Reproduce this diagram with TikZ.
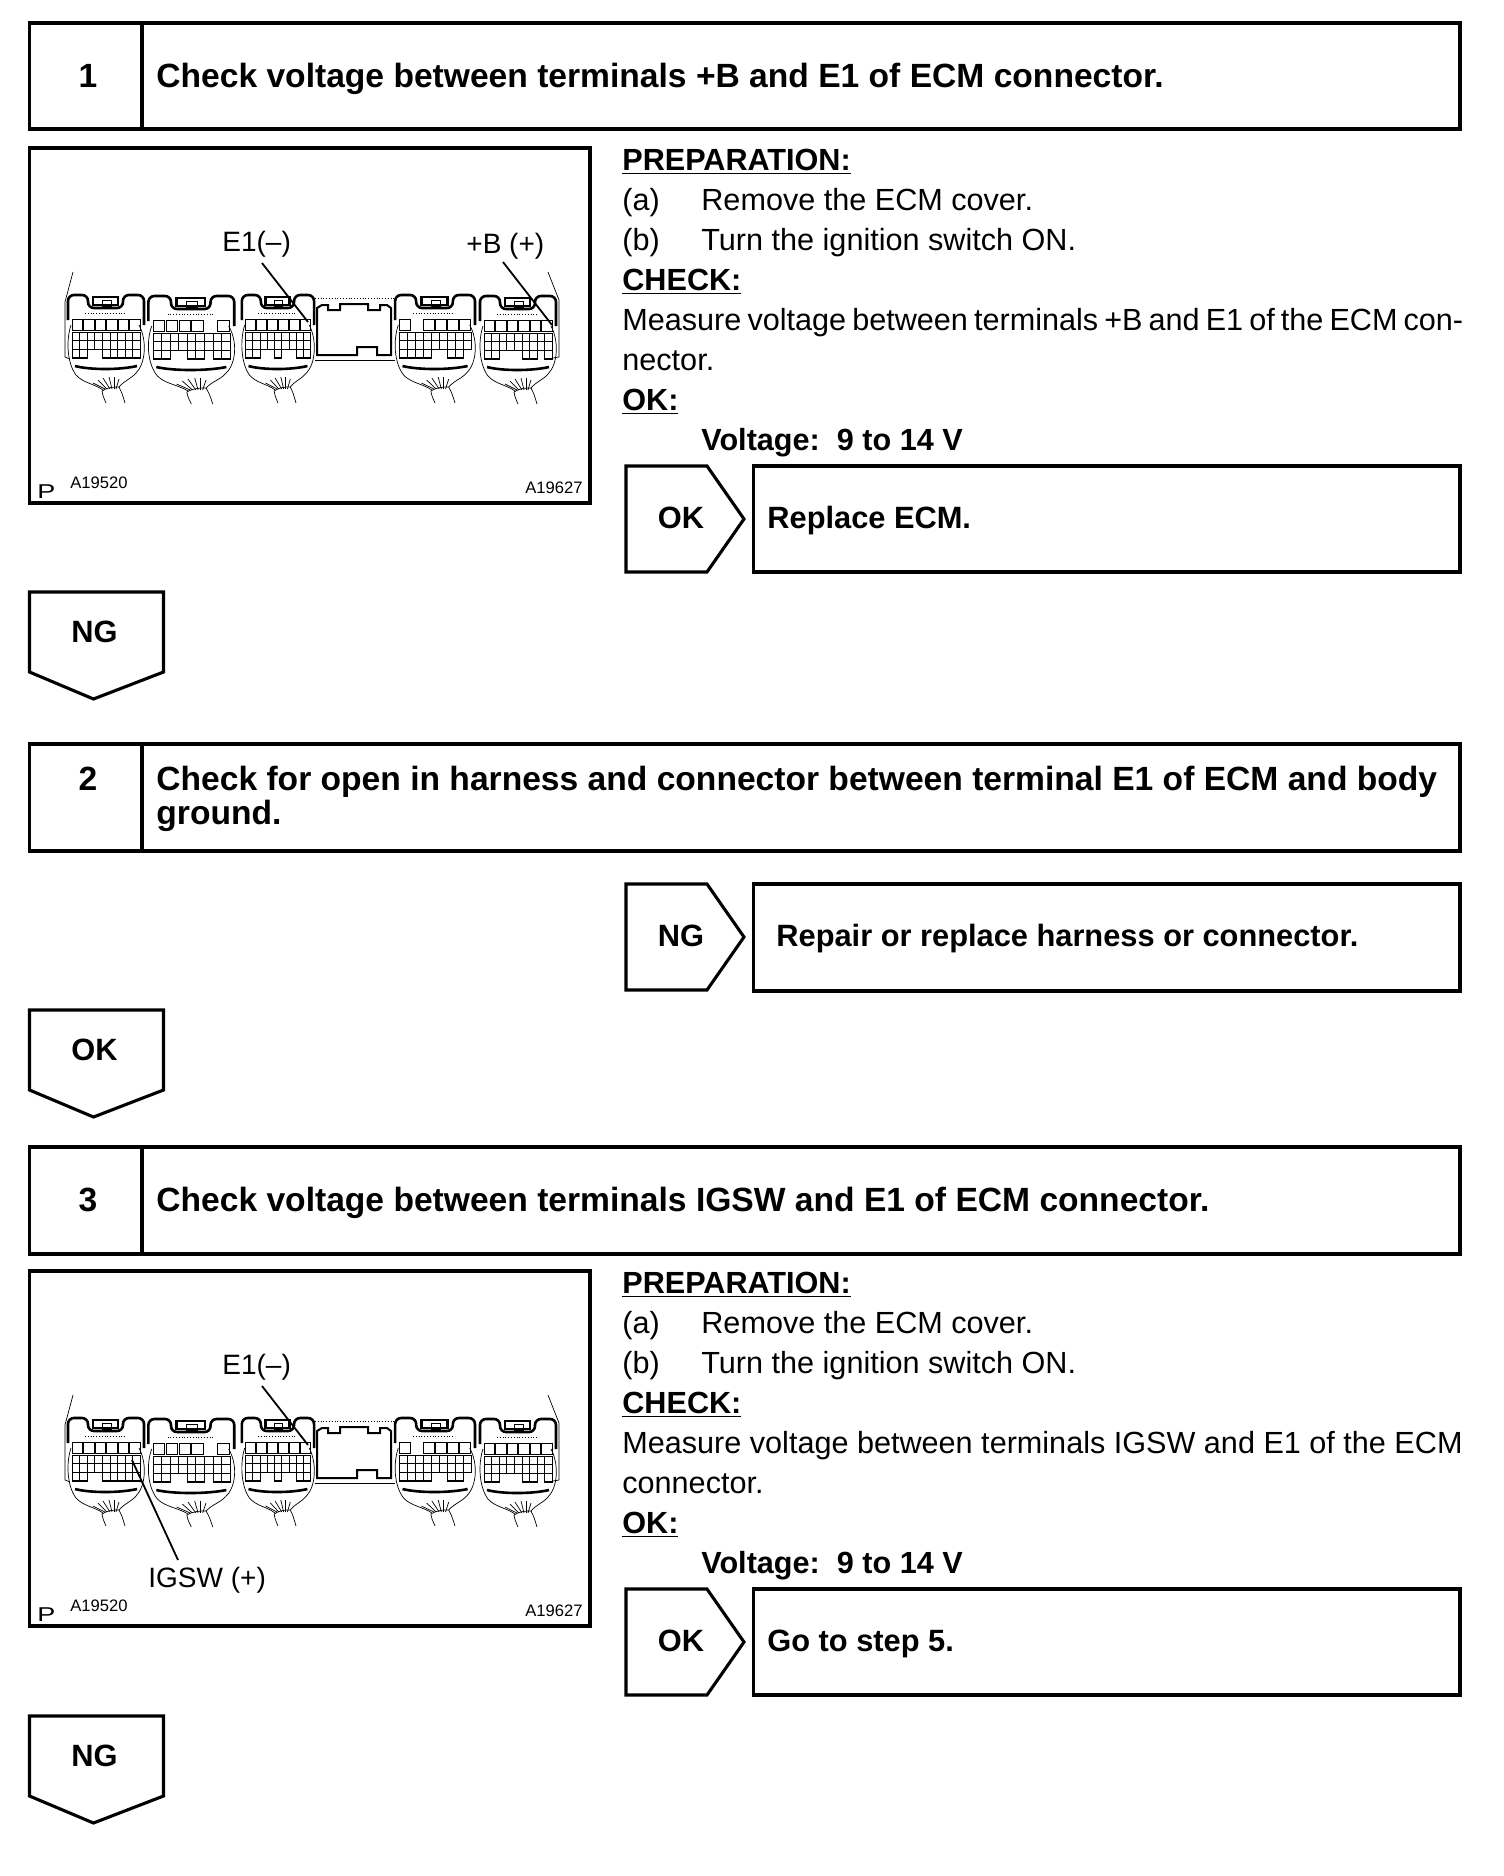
\documentclass[tikz,border=0pt]{standalone}
\usepackage{fontspec}
\setmainfont{Liberation Sans}
\usetikzlibrary{calc}
\tikzset{frm/.style={line width=1.55pt, line join=miter},
  txt/.style={anchor=base west, inner sep=0pt, font=\fontsize{15.3}{17}\selectfont},
  hdg/.style={txt, font=\fontsize{16.8}{18}\selectfont\bfseries},
  res/.style={txt, font=\fontsize{15.4}{17}\selectfont\bfseries},
  ctr/.style={res, anchor=base},
  callout/.style={txt, font=\fontsize{14}{17}\selectfont},
  tiny/.style={txt, font=\fontsize{8.3}{10}\selectfont},
  leader/.style={line width=0.9pt},
  fine/.style={line width=0.35pt},
  cell/.style={line width=0.4pt},
  heavy/.style={line width=1.3pt},
  pics/toright/.style={code={
    \draw[frm] (0,0) -- (81,0) -- (118,53) -- (81,106) -- (0,106) -- cycle;
    \node[ctr] (-lbl) at (55,62) {#1};}},
  pics/todown/.style={code={
    \draw[frm] (0,0) -- (134,0) -- (134,80) -- (64,107) -- (0,80) -- cycle;
    \node[ctr] (-lbl) at (65,50) {#1};}},
  pics/ecmconn/.style n args={2}{code={
    \draw[heavy, rounded corners=3pt] (3,25) -- (3,0) -- (23,0) -- (23,13) -- (58,13) -- (58,0) -- (79,0) -- (79,30);
    \draw[heavy] (28,2) rectangle (53,10);
    \draw[fine] (37,5) rectangle (46,11);
    \draw[cell, densely dotted] (20,18) -- (60,18);
    \foreach \c in {0,...,5} {
      \ifnum\c=#1\else
        \draw[cell] ({7+\c*11.5},24) rectangle ({7+(\c+1)*11.5-1},35);
      \fi}
    \foreach \c in {0,...,8} {
      \draw[cell] ({7+\c*7.6},37) rectangle ({7+(\c+1)*7.6},45.5);
      \draw[cell] ({7+\c*7.6},45.5) rectangle ({7+(\c+1)*7.6},54);}
    \foreach \c in {#2} {
      \draw[cell] ({7+\c*7.6},54) rectangle ({7+(\c+1)*7.6},63);
      \draw[heavy] ({7+\c*7.6},63) -- ({7+(\c+1)*7.6},63);}
    \draw[fine] (6,30) .. controls (1,45) and (2,68) .. (11,80) .. controls (18,88) and (30,89) .. (38,95);
    \draw[fine] (74,30) .. controls (82,45) and (81,68) .. (71,78) .. controls (66,84) and (60,85) .. (54,92);
    \draw[heavy] (10,71) .. controls (25,75) and (55,75) .. (72,71);
    \draw[fine] (37,96) .. controls (38,101) .. (41,108);
    \draw[fine] (54,92) .. controls (57,98) .. (60,108);
    \draw[fine] (37,96) .. controls (43,92) and (49,92) .. (54,92);
    \foreach \fx/\tx/\ty in {40/28/88, 42/33/85, 45/38/83, 47/44/82, 49/49/82, 51/54/84} {
      \draw[fine] (\fx,94) -- (\tx,\ty);}
  }}
}
\begin{document}
\begin{tikzpicture}[x=0.5pt, y=-0.5pt]
  \useasboundingbox (0,0) rectangle (1504,1876);

  \draw[frm] (29.5,23) rectangle (1460,129);
  \draw[frm] (142,23) -- (142,129);
  \node[hdg, anchor=base] (numa) at (88,87) {1};
  \node[hdg] (hdga) at (156,87) {Check voltage between terminals +B and E1 of ECM connector.};

  \draw[frm] (29.5,744) rectangle (1460,851);
  \draw[frm] (142,744) -- (142,851);
  \node[hdg, anchor=base] (numb) at (88,790) {2};
  \node[hdg] (hdgb) at (156,790) {Check for open in harness and connector between terminal E1 of ECM and body};
  \node[hdg] (hdgbb) at (156,824) {ground.};

  \draw[frm] (29.5,1147) rectangle (1460,1254);
  \draw[frm] (142,1147) -- (142,1254);
  \node[hdg, anchor=base] (numc) at (88,1211) {3};
  \node[hdg] (hdgc) at (156,1211) {Check voltage between terminals IGSW and E1 of ECM connector.};

  \foreach \off/\nm/\lna/\lnb in {0/a/{\spaceskip=3.05pt Measure voltage between terminals +B and E1 of the ECM con-}/{nector.},
      1123/c/{Measure voltage between terminals IGSW and E1 of the ECM}/{connector.}} {
    \begin{scope}[shift={(0,\off)}]
      \draw[frm] (29.5,148) rectangle (590,503);
      \pic at (65,295) {ecmconn={-1}{0,1,4,5,6,7,8}};
      \pic[xscale=1.13] at (145,296) {ecmconn={4}{0,1,4,5,7,8}};
      \pic[xscale=.95] at (239,295) {ecmconn={-1}{0,1,4,7,8}};
      \pic[xscale=1.05] at (392,295) {ecmconn={1}{0,1,2,3,6,7}};
      \pic at (477,296) {ecmconn={-1}{0,1,5,6,8}};
      \draw[fine] (73,272) -- (65,302) -- (65,357) -- (70,359);
      \draw[fine] (548,272) -- (559,300) -- (559,357) -- (553,358);
      \draw[cell, densely dotted] (315,298) -- (395,298);
      \draw[fine] (315,360) -- (395,360);
      \draw[line width=1pt] (322,305) -- (328,305) -- (328,310) -- (340,310) -- (340,304) -- (368,304) -- (368,310) -- (380,310) -- (380,305) -- (387,305) -- (391,308) -- (391,355) -- (377,355) -- (377,347) -- (357,347) -- (357,355) -- (317,355) -- (317,308) -- cycle;
      \node[callout] (eone\nm) at (222,251) {E1(--)};
      \coordinate (eonept\nm) at (308,322);
      \draw[leader] (262,263) -- (eonept\nm);
      \node[tiny] (refa\nm) at (70,488.5) {A19520};
      \node[tiny] (refb\nm) at (525,493) {A19627};
      \node[txt, font=\fontsize{10}{12}\selectfont] (pmk\nm) at (37,498) {\scalebox{1.35}[1]{P}};
      \node[txt] (prep\nm) at (622,170) {\underline{\textbf{PREPARATION:}}};
      \node[txt] (ma\nm) at (622,210) {(a)};
      \node[txt] (ta\nm) at (701,210) {Remove the ECM cover.};
      \node[txt] (mb\nm) at (622,250) {(b)};
      \node[txt] (tb\nm) at (701,250) {Turn the ignition switch ON.};
      \node[txt] (chk\nm) at (622,290) {\underline{\textbf{CHECK:}}};
      \node[txt] (msa\nm) at (622,330) {\lna};
      \node[txt] (msb\nm) at (622,370) {\lnb};
      \node[txt] (okh\nm) at (622,410) {\underline{\textbf{OK:}}};
      \node[txt] (volt\nm) at (701,450) {\textbf{Voltage:\ \ 9 to 14 V}};
    \end{scope}
  }

  \node[callout] (bplus) at (466,253) {+B (+)};
  \coordinate (bpt) at (552,325);
  \draw[leader] (503,262) -- (bpt);
  \node[callout] (igsw) at (148,1587) {IGSW (+)};
  \coordinate (igpt) at (132,1460);
  \draw[leader] (178,1560) -- (igpt);

  \pic (oka) at (626,466) {toright=OK};
  \draw[frm] (753.5,466) rectangle (1460,572);
  \node[res] (rsa) at (767,528) {Replace ECM.};
  \pic (nga) at (29.5,592) {todown=NG};

  \pic (ngb) at (626,884) {toright=NG};
  \draw[frm] (753.5,884) rectangle (1460,991);
  \node[res] (rsb) at (776,946) {Repair or replace harness or connector.};
  \pic (okb) at (29.5,1010) {todown=OK};

  \pic (okc) at (626,1589) {toright=OK};
  \draw[frm] (753.5,1589) rectangle (1460,1695);
  \node[res] (rsc) at (767,1651) {Go to step 5.};
  \pic (ngc) at (29.5,1716) {todown=NG};
\end{tikzpicture}
\end{document}
